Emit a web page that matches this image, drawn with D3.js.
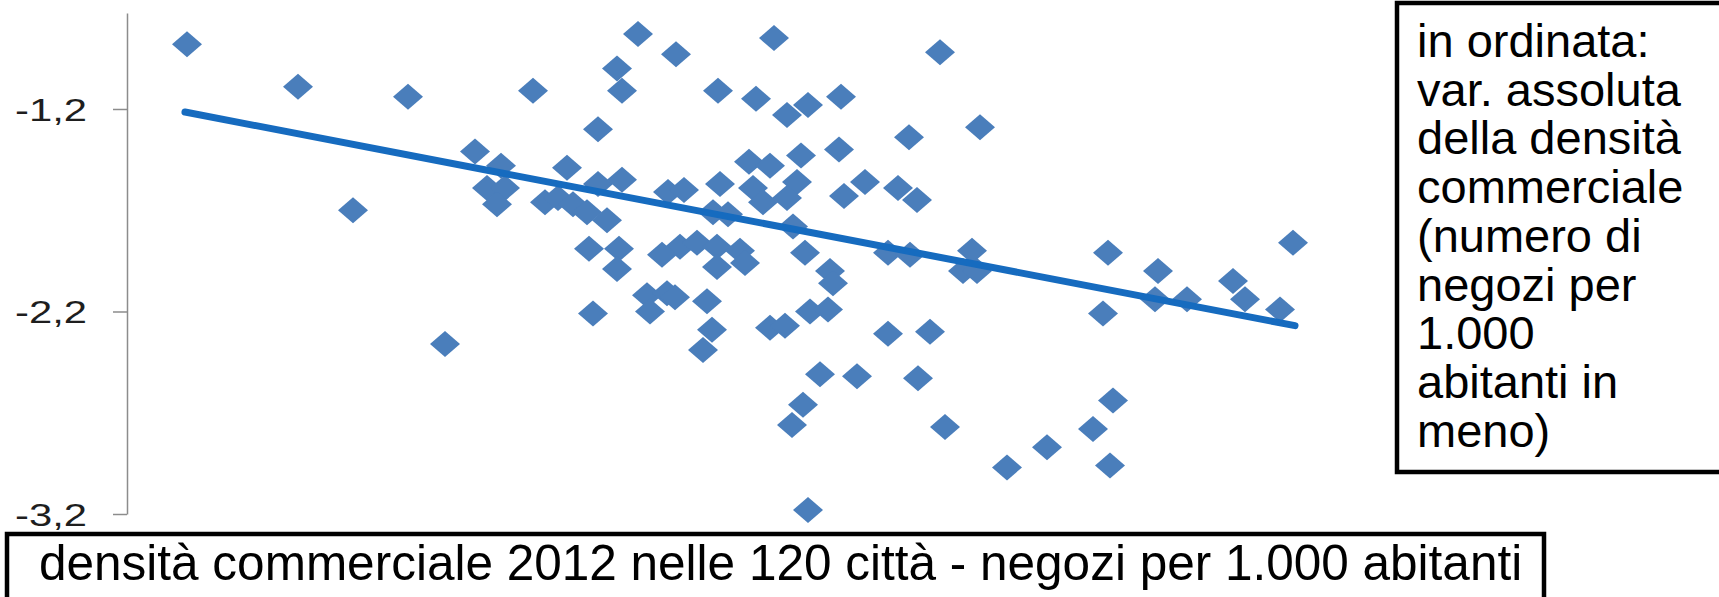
<!DOCTYPE html>
<html>
<head>
<meta charset="utf-8">
<script src="https://cdn.jsdelivr.net/npm/d3@7"></script>
<style>
  html, body { margin: 0; padding: 0; background: #fff; }
  svg { display: block; font-family: "Liberation Sans", Arial, sans-serif; }
  .ylab { font-size: 32px; fill: #1e1e1e; }
</style>
</head>
<body>
<div id="chart"></div>
<script>
// densità commerciale 2012 (negozi per 1.000 abitanti) - asse x
const density2012 = [
  8.60, 9.71, 10.81, 10.26, 11.18, 12.06, 12.71, 13.11, 13.49, 12.90,
  12.95, 13.91, 14.47, 14.29, 14.60, 14.81, 15.14, 16.13, 16.53, 15.82,
  15.12, 14.74, 14.22, 14.43, 15.38, 15.17, 15.71, 15.90, 14.70, 14.60,
  14.26, 14.36, 13.93, 13.41, 13.57, 13.86, 14.01, 14.66, 13.53, 13.70,
  13.90, 14.13, 14.78, 15.03, 15.06, 13.90, 14.18, 13.35, 12.62, 12.92,
  12.90, 12.66, 13.20, 13.40, 13.23, 13.48, 13.80, 13.85, 13.76, 14.43,
  14.58, 14.83, 15.01, 15.61, 16.03, 15.30, 14.93, 15.91, 16.18, 14.76,
  14.65, 14.81, 17.86, 17.66, 17.20, 16.80, 17.83, 15.61, 15.83, 16.45,
  16.36, 16.50, 17.81, 19.66, 18.31, 18.28, 18.60, 19.06, 19.18, 19.53,
  17.76, 11.48, 11.74, 11.60, 11.78, 11.70, 12.40, 12.18, 12.31, 12.46,
  12.60, 12.80, 12.71, 12.95
];

// var. assoluta della densità commerciale - asse y
const densityChange = [
  -0.88, -1.09, -1.14, -1.70, -2.36, -1.11, -1.30, -0.83, -0.93, -1.00,
  -1.11, -1.11, -0.85, -1.15, -1.23, -1.18, -1.14, -0.92, -1.29, -1.34,
  -1.40, -1.43, -1.46, -1.48, -1.56, -1.63, -1.59, -1.65, -1.56, -1.64,
  -1.59, -1.66, -1.57, -1.61, -1.60, -1.71, -1.72, -1.78, -1.88, -1.86,
  -1.88, -1.90, -1.91, -2.00, -2.06, -1.98, -1.96, -1.92, -1.89, -1.89,
  -1.99, -2.21, -2.12, -2.11, -2.20, -2.13, -2.15, -2.29, -2.39, -2.28,
  -2.27, -2.20, -2.19, -2.31, -2.30, -2.52, -2.51, -2.53, -2.77, -2.66,
  -2.76, -3.18, -2.64, -2.78, -2.87, -2.97, -2.96, -1.91, -1.92, -1.90,
  -2.00, -2.00, -1.91, -1.86, -2.00, -2.14, -2.14, -2.05, -2.14, -2.19,
  -2.21, -1.41, -1.48, -1.59, -1.59, -1.67, -1.49, -1.66, -1.64, -1.67,
  -1.71, -1.75, -1.57, -1.55
];

// linea di tendenza (estremi)
const trendX = [8.58, 19.68];
const trendY = [-1.215, -2.27];

const yTickValues = [-3.2, -2.2, -1.2];
const yTickLabels = ["-3,2", "-2,2", "-1,2"];

const xTitle = "densità commerciale 2012 nelle 120 città - negozi per 1.000 abitanti";
const yNoteLines = [
  "in ordinata:",
  "var. assoluta",
  "della densità",
  "commerciale",
  "(numero di",
  "negozi per",
  "1.000",
  "abitanti in",
  "meno)"
];

const width = 1719;
const height = 597;

const svg = d3.select("#chart")
  .append("svg")
  .attr("width", width)
  .attr("height", height);

const x = d3.scaleLinear().domain([8, 20]).range([127, 1327]);
const y = d3.scaleLinear().domain([-3.2, -0.726]).range([514, 13]);

// Y axis (line and ticks only, labels drawn below)
const yAxis = svg.append("g")
  .attr("transform", "translate(127,0)")
  .call(
    d3.axisLeft(y)
      .tickValues(yTickValues)
      .tickFormat("")
      .tickSize(14)
      .tickSizeOuter(0)
  );

yAxis.select(".domain").attr("stroke", "#8c8c8c").attr("stroke-width", 1.5);
yAxis.selectAll(".tick line").attr("stroke", "#8c8c8c").attr("stroke-width", 1.5);

// tick labels, stretched horizontally like in the original
svg.append("g")
  .selectAll("text")
  .data(yTickValues)
  .join("text")
  .attr("class", "ylab")
  .attr("x", 87)
  .attr("y", (d) => y(d))
  .attr("dy", "0.36em")
  .attr("text-anchor", "end")
  .attr("textLength", 72)
  .attr("lengthAdjust", "spacingAndGlyphs")
  .text((d, i) => yTickLabels[i]);

// Points
const points = density2012.map((d, i) => ({ x: d, y: densityChange[i] }));

svg.append("g")
  .selectAll("path")
  .data(points)
  .join("path")
  .attr("transform", (d) => `translate(${x(d.x)},${y(d.y)})`)
  .attr("d", "M0,-13L15,0L0,13L-15,0Z")
  .attr("fill", "#4a7ebb");

// Trend line
svg.append("path")
  .datum(trendX.map((d, i) => [d, trendY[i]]))
  .attr("fill", "none")
  .attr("stroke", "#166bbf")
  .attr("stroke-width", 7)
  .attr("stroke-linecap", "round")
  .attr("d", d3.line().x((d) => x(d[0])).y((d) => y(d[1])));

// Note box on the right
svg.append("rect")
  .attr("x", 1397)
  .attr("y", 3)
  .attr("width", 400)
  .attr("height", 469)
  .attr("fill", "#fff")
  .attr("stroke", "#000")
  .attr("stroke-width", 4.5);

svg.append("text")
  .attr("font-size", "47px")
  .attr("fill", "#000")
  .selectAll("tspan")
  .data(yNoteLines)
  .join("tspan")
  .attr("x", 1417)
  .attr("y", (d, i) => 57 + i * 48.7)
  .text((d) => d);

// X title box at the bottom
svg.append("rect")
  .attr("x", 7)
  .attr("y", 534)
  .attr("width", 1537)
  .attr("height", 120)
  .attr("fill", "#fff")
  .attr("stroke", "#000")
  .attr("stroke-width", 4.5);

svg.append("text")
  .attr("x", 39)
  .attr("y", 580)
  .attr("font-size", "49.5px")
  .attr("fill", "#000")
  .text(xTitle);
</script>
</body>
</html>
